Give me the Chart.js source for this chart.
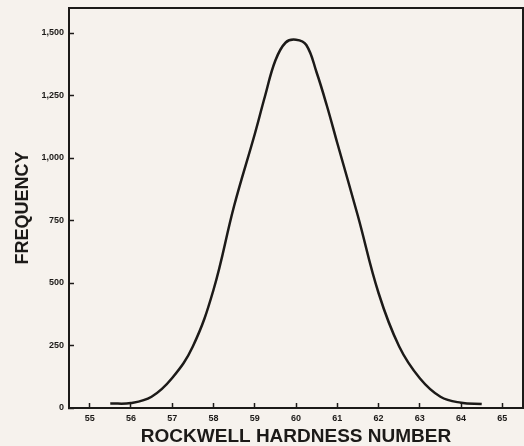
<!DOCTYPE html>
<html>
<head>
<meta charset="utf-8">
<script src="https://cdn.jsdelivr.net/npm/chart.js@4/dist/chart.umd.min.js"></script>
<style>
  html, body { margin: 0; padding: 0; background: #f6f2ed; }
  canvas { display: block; }
</style>
</head>
<body>
<canvas id="myChart" width="524" height="446"></canvas>
<script>
// values
const hardness = [55.5, 56, 56.5, 57, 57.5, 58, 58.5, 59, 59.25, 59.5, 59.75, 60, 60.25, 60.5, 60.75, 61, 61.5, 62, 62.5, 63, 63.5, 64, 64.5];
const frequency = [18, 20, 45, 120, 246, 472, 808, 1095, 1248, 1390, 1462, 1473, 1452, 1342, 1208, 1060, 768, 460, 246, 119, 45, 21, 16];

const xTicks = [55, 56, 57, 58, 59, 60, 61, 62, 63, 64, 65];
const yTicks = [0, 250, 500, 750, 1000, 1250, 1500];

const ink = "#1c1a18";

const points = hardness.map((h, i) => ({ x: h, y: frequency[i] }));

// box round the plot area (top and right sides)
const frame = {
  id: "frame",
  afterDraw(chart) {
    const a = chart.chartArea;
    const ctx = chart.ctx;
    ctx.save();
    ctx.strokeStyle = ink;
    ctx.lineWidth = 2;
    ctx.beginPath();
    ctx.moveTo(a.left, a.top);
    ctx.lineTo(a.right, a.top);
    ctx.lineTo(a.right, a.bottom);
    ctx.stroke();
    ctx.restore();
  },
};

const config = {
  type: "line",
  data: {
    datasets: [
      {
        data: points,
        borderColor: ink,
        borderWidth: 2.5,
        pointRadius: 0,
        fill: false,
        tension: 0.4,
      },
    ],
  },
  options: {
    responsive: false,
    animation: false,
    layout: { padding: { left: 14, top: 8, right: 1, bottom: 0 } },
    plugins: { legend: { display: false }, tooltip: { enabled: false } },
    scales: {
      x: {
        type: "linear",
        min: 54.5,
        max: 65.5,
        afterBuildTicks: (scale) => {
          scale.ticks = xTicks.map((v) => ({ value: v }));
        },
        afterFit: (scale) => {
          scale.height = 38;
        },
        grid: { drawOnChartArea: false, tickLength: -5, tickColor: ink, tickWidth: 1.5 },
        border: { color: ink, width: 2 },
        ticks: {
          color: ink,
          padding: 10,
          maxRotation: 0,
          font: { family: "Liberation Sans", size: 9, weight: "bold" },
        },
        title: {
          display: true,
          text: "ROCKWELL HARDNESS NUMBER",
          color: ink,
          padding: 0,
          font: { family: "Liberation Sans", size: 19, weight: "bold", lineHeight: 1 },
        },
      },
      y: {
        min: 0,
        max: 1600,
        afterBuildTicks: (scale) => {
          scale.ticks = yTicks.map((v) => ({ value: v }));
        },
        afterFit: (scale) => {
          scale.width = 55;
          scale.paddingTop = 0;
        },
        grid: { drawOnChartArea: false, tickLength: -5, tickColor: ink, tickWidth: 1.5 },
        border: { color: ink, width: 2 },
        ticks: {
          color: ink,
          padding: 10,
          callback: (v) => v.toLocaleString("en-US"),
          font: { family: "Liberation Sans", size: 9, weight: "bold" },
        },
        title: {
          display: true,
          text: "FREQUENCY",
          color: ink,
          padding: 0,
          font: { family: "Liberation Sans", size: 18, weight: "bold", lineHeight: 1 },
        },
      },
    },
  },
  plugins: [frame],
};

new Chart(document.getElementById("myChart"), config);
</script>
</body>
</html>
